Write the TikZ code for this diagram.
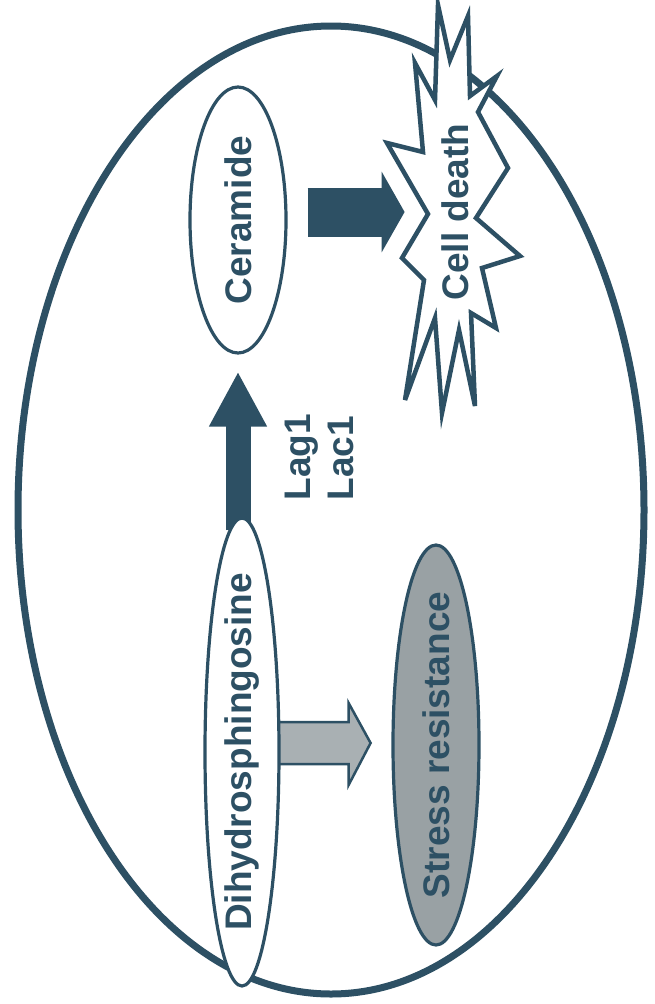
\documentclass[tikz,border=0pt]{standalone}
\usepackage{fontspec}
\setmainfont{Liberation Sans}
\usetikzlibrary{shapes.geometric,arrows.meta,calc}
\pgfdeclarelayer{bg}
\pgfsetlayers{bg,main}
\definecolor{ink}{HTML}{2D5064}
\definecolor{grayfill}{HTML}{A9B0B3}
\definecolor{stressfill}{HTML}{99A1A4}
\begin{document}
\begin{tikzpicture}[x=1pt,y=-1pt,
  lbl/.style={font=\fontsize{37}{43}\selectfont\bfseries, text=ink, inner sep=0pt},
  oval/.style={ellipse, draw=ink, line width=3.2pt, fill=white, inner sep=0pt, rotate=90},
  darrow/.style={draw=ink, fill=ink},
  grayarrow/.style={draw=ink, fill=grayfill, line width=2.5pt, line join=miter},
  burst/.style={draw=ink, fill=white, line width=4.5pt, line join=miter}]
\useasboundingbox (0,0) rectangle (654,1004);
\begin{pgfonlayer}{bg}
\fill[white] (0,0) rectangle (654,1004);
\node[ellipse, draw=ink, line width=7pt, minimum width=626pt, minimum height=968pt, inner sep=0pt] (cell) at (331,510) {};
\end{pgfonlayer}

% ovals
\node[oval, minimum width=266pt, minimum height=96pt] (cer) at (238,220) {};
\node[lbl, rotate=90] (certxt) at (cer) {Ceramide};
\node[oval, minimum width=468pt, minimum height=74pt] (dih) at (242,752) {};
\node[lbl, rotate=90] (dihtxt) at (dih) {Dihydrosphingosine};
\node[oval, fill=stressfill, minimum width=400pt, minimum height=86pt] (str) at (436,745) {};
\node[lbl, rotate=90] (strtxt) at (str) {Stress resistance};

% enzymes
\node[lbl, rotate=90, align=left] (lag) at (319,457) {Lag1\\Lac1};

% cell death burst
\path[burst] (415,63) -- (435,100) -- (438,5) -- (450,60) -- (468,16) -- (470,96)
  -- (497,76) -- (478,112) -- (508,168) -- (476,218) -- (520,256) -- (482,268)
  -- (496,328) -- (471,313) -- (475,406) -- (459,330) -- (442,413) -- (435,318)
  -- (405,400) -- (424,280) -- (402,258) -- (428,214) -- (387,143) -- (423,152) -- cycle;
\node[lbl, rotate=90] (cd) at (455,212) {Cell death};

% connectors
\begin{pgfonlayer}{bg}
\draw[ink, line width=25pt, -{Triangle[length=55pt,width=54pt]}]
  ($(dih.east -| cer.west)+(0,14)$) -- ($(cer.west)+(0,17)$);
\draw[ink, line width=49pt, -{Triangle[length=23pt,width=80pt]}]
  ($(cer.south)+(20,-8)$) -- ($(cer.south)+(117,-8)$);
\draw[grayarrow] ($(dih.south)+(-2,-30)$) -- ($(dih.south)+(68,-30)$) -- ($(dih.south)+(68,-49)$)
  -- ($(dih.south)+(90,-9)$) -- ($(dih.south)+(68,33)$) -- ($(dih.south)+(68,12)$)
  -- ($(dih.south)+(-2,12)$) -- cycle;
\end{pgfonlayer}
\end{tikzpicture}
\end{document}
